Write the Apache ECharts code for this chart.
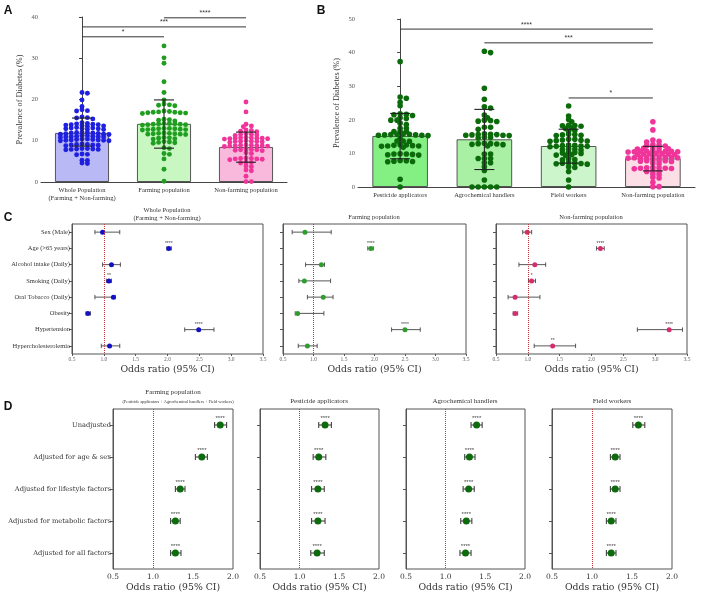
<!DOCTYPE html>
<html><head><meta charset="utf-8">
<script src="https://cdn.jsdelivr.net/npm/echarts@6/dist/echarts.min.js"></script>
<style>html,body{margin:0;padding:0;background:#fff}#c{width:708px;height:597px}</style>
</head><body><div id="c"></div><script>
// ---------------- DATA ----------------
const aCategories = ['Whole Population\n(Farming + Non-farming)', 'Farming population', 'Non-farming population'];
const wholePop = [21.7,21.5,19.9,18.3,17.5,17.3,17.2,15.8,15.6,15.5,15.3,14.4,14.2,14.1,
  13.9,13.8,14.0,13.6,13.7,13.9,13.5, 13.1,12.9,13.2,12.8,13.0,12.7,13.1,12.9,
  12.1,11.9,11.7,11.6,11.9,12.0,11.5,11.8,11.6,12.0, 11.2,11.0,10.9,11.1,10.8,11.0,11.3,10.9,11.1,
  10.4,10.2,10.0,10.3,10.1,10.2,10.4,10.0,10.3,10.1, 9.2,9.0,8.9,9.1,8.8,9.0,9.1,
  8.1,7.9,8.0,7.8,8.1,7.9,8.0, 6.8,6.6,6.7, 5.3,5.2, 4.6,4.5];
const farmingPop = [33.0,30.1,28.8,24.3,21.7,19.9, 18.9,18.6,18.7,18.5,
  17.1,16.9,16.8,17.0,16.7,16.9,17.2,16.8,16.6, 15.1,15.0,14.8,15.2,
  14.2,14.0,13.9,14.1,13.8,14.0,14.2,13.9,14.1, 12.9,12.7,12.8,13.0,12.6,12.9,12.7,12.8,13.0,
  11.8,11.6,11.7,11.9,11.5,11.8,11.6,11.7, 10.7,10.5,10.6,10.8,10.4, 9.7,9.5,9.6,9.8,9.4,
  8.3,8.1, 6.9,6.7, 5.6, 3.1, 0.2];
const nonFarmingPop = [19.4,17.0,14.0,13.6,13.4, 12.5,12.3,12.6,12.2, 11.6,11.4,11.5,11.7,11.3,
  10.7,10.5,10.6,10.8,10.4,10.6,10.7,10.5,10.6, 9.9,9.7,9.8,10.0,9.6,9.8,9.9,
  8.9,8.7,8.8,9.0,8.6,8.8,8.9,8.7,8.8, 7.9,7.7,7.8,8.0,7.6,7.8, 7.1,6.9,
  5.7,5.5,5.6,5.8,5.4,5.6,5.7, 4.8,4.6,4.7, 3.9,3.7, 2.9,2.7, 1.4, 0.1,0.1];
const aMeans = [11.9, 14.1, 8.5];
const aSdLow = [8.7, 8.2, 4.8];
const aSdHigh = [15.5, 19.9, 12.1];
const aBrackets = [[0,1,'*'],[0,2,'***'],[1,2,'****']];

const bCategories = ['Pesticide applicators','Agrochemical handlers','Field workers','Non-farming population'];
const pesticideApp = [37.3,26.8,26.4,25.2,24.2,21.8,21.6,21.5,21.3,20.6,20.4,19.9,19.9,19.0,18.6,17.5,17.5,16.5,16.5,16.5,
  15.7,15.4,15.5,15.8,15.3,15.6,15.4,15.7,15.5, 14.5,13.7,13.7,13.6, 12.5,12.2,12.4,12.1,12.3,12.6,12.2, 11.8,
  9.8,9.6,9.9,9.5,9.7,9.8, 7.8,7.6,7.9,7.5,7.7, 2.3, 0];
const agroHandlers = [40.4,40.0,29.4,26.1,23.9,23.5,21.4,20.6,19.8,19.6,19.9,19.5,17.8,17.8,17.2,
  15.6,15.4,15.7,15.3,15.5,15.8,15.4,15.6, 14.8,14.7,14.6, 12.9,12.7,13.0,12.6,12.8,12.9, 12.2,
  9.8,9.8, 8.5,8.5,8.5, 7.2,7.2, 6.0, 4.9, 2.1, 0,0,0,0,0];
const fieldWorkers = [24.1,21.1,20.1,19.4,18.3,18.1,18.2,18.4,17.6,17.4,16.8,16.6,15.6,15.4,15.7,15.3,15.5,14.2,14.2,
  13.9,13.7,14.0,13.6,13.8, 12.3,12.1,12.4,12.0,12.2,12.5,12.1, 11.3,11.1,11.4,11.0, 10.3,10.1,10.4,10.0,
  9.6,9.4,9.5, 8.3,8.1,8.2, 7.1,6.9,7.2,6.8,7.0,7.1, 6.0,5.8, 4.6, 2.1, 0];
const bMeans = [15.2, 14.2, 12.2, 8.5];
const bSdLow = [8.4, 5.2, 7.1, 4.8];
const bSdHigh = [21.9, 23.1, 17.2, 12.1];
const bBrackets = [[0,3,'****'],[1,3,'***'],[2,3,'*']];

const cFactors = ['Sex (Male)','Age (>65 years)','Alcohol intake (Daily)','Smoking (Daily)','Oral Tobacco (Daily)','Obesity','Hypertension','Hypercholesterolemia'];
const cWholeOR = [0.98,2.02,1.12,1.08,1.15,0.75,2.49,1.09];
const cWholeLo = [0.86,1.99,0.98,1.04,0.86,0.72,2.27,0.96];
const cWholeHi = [1.25,2.06,1.26,1.12,1.18,0.79,2.73,1.25];
const cWholeSig = ['','****','','**','','','****',''];
const cFarmOR = [0.86,1.94,1.13,0.85,1.16,0.74,2.50,0.90];
const cFarmLo = [0.65,1.89,0.87,0.76,0.90,0.70,2.28,0.75];
const cFarmHi = [1.29,1.98,1.18,1.28,1.32,1.17,2.75,1.06];
const cFarmSig = ['','****','','','','','****',''];
const cNonOR = [0.99,2.14,1.11,1.06,0.80,0.80,3.22,1.39];
const cNonLo = [0.92,2.08,0.86,1.01,0.69,0.77,2.72,1.10];
const cNonHi = [1.06,2.20,1.28,1.12,1.19,0.84,3.43,1.75];
const cNonSig = ['','****','','*','','','****','**'];
const cTicks = [0.5,1.0,1.5,2.0,2.5,3.0,3.5];

const dFactors = ['Unadjusted','Adjusted for age & sex','Adjusted for lifestyle factors','Adjusted for metabolic factors','Adjusted for all factors'];
const dFarmOR = [1.84,1.61,1.34,1.28,1.28];
const dFarmLo = [1.77,1.53,1.28,1.22,1.22];
const dFarmHi = [1.92,1.68,1.40,1.34,1.35];
const dPestOR = [1.32,1.24,1.23,1.23,1.22];
const dPestLo = [1.24,1.17,1.15,1.15,1.14];
const dPestHi = [1.40,1.33,1.31,1.32,1.31];
const dAgroOR = [1.39,1.30,1.29,1.26,1.25];
const dAgroLo = [1.32,1.24,1.22,1.19,1.18];
const dAgroHi = [1.46,1.37,1.36,1.33,1.32];
const dFieldOR = [1.58,1.29,1.29,1.24,1.24];
const dFieldLo = [1.51,1.23,1.23,1.18,1.18];
const dFieldHi = [1.66,1.35,1.35,1.30,1.30];
const dSig = ['****','****','****','****','****'];
const dTicks = [0.5,1.0,1.5,2.0];

// ---------------- LAYOUT / STYLE ----------------
const SERIF = '"Liberation Serif","Times New Roman",serif';
const SANS = '"Liberation Sans",Arial,sans-serif';
const DSERIF = '"DejaVu Serif",serif';
const grids = [
  {left:41, top:17, width:246, height:165},   // A
  {left:358, top:19, width:337, height:168},  // B
  {left:72, top:224, width:191, height:130},  // C1
  {left:283, top:224, width:183, height:130}, // C2
  {left:496, top:224, width:191, height:130}, // C3
  {left:113, top:409, width:120, height:160}, // D1
  {left:260, top:409, width:119, height:160}, // D2
  {left:406, top:409, width:119, height:160}, // D3
  {left:552, top:409, width:120, height:160}  // D4
];
const bracketYA = [35.2, 37.6, 39.8];
const bracketYB = [47.0, 42.9, 26.5];

// beeswarm with elliptical collision (points may overlap a little vertically, like Prism dot plots)
function swarm(values, grid, yMax, nCat, sp, vy) {
  const pyU = grid.height / yMax, pxU = grid.width / nCat;
  const order = values.map((v,i)=>i).sort((a,b)=>values[b]-values[a]);
  const placed = [], out = [];
  const step = sp/2;
  for (const i of order) {
    const y = values[i]*pyU;
    let best = 0;
    for (let n=0;n<400;n++){
      const c = n===0?0:(n%2?1:-1)*Math.ceil(n/2)*step;
      let ok = true;
      for (const p of placed){
        const dx=(p[0]-c)/sp, dy=(p[1]-y)/vy;
        if (dx*dx+dy*dy < 0.999){ok=false;break;}
      }
      if (ok){best=c;break;}
    }
    placed.push([best,y]);
    out[i] = best/pxU;
  }
  return out;
}
function dotData(values, cat, grid, yMax, nCat, sp, vy){
  const off = swarm(values, grid, yMax, nCat, sp, vy);
  return values.map((v,i)=>[cat+off[i], v]);
}

const series = [];
const xAxes = [], yAxes = [];

function barPanel(gi, cats, groups, means, lo, hi, barColors, dotColors, yMax, brackets, bracketY, sp, vy, dotSize, yName){
  const xc = xAxes.length, xv = xc+1, yi = yAxes.length;
  xAxes.push({type:'category', gridIndex:gi, data:cats,
    axisLine:{lineStyle:{color:'#444', width:1}}, axisTick:{show:false},
    axisLabel:{interval:0, fontFamily:SERIF, fontSize:6.5, lineHeight:8.5, color:'#333', margin:4}});
  xAxes.push({type:'value', gridIndex:gi, min:-0.5, max:cats.length-0.5, show:false});
  yAxes.push({type:'value', gridIndex:gi, min:0, max:yMax, interval:10,
    axisLine:{show:true, lineStyle:{color:'#444'}}, axisTick:{show:true, length:3, lineStyle:{color:'#444'}},
    splitLine:{show:false}, axisLabel:{fontFamily:SERIF, fontSize:6.5, color:'#555', margin:3},
    name:yName, nameLocation:'middle', nameGap:17, nameTextStyle:{fontFamily:SERIF, fontSize:8.2, color:'#333'}});
  series.push({type:'bar', xAxisIndex:xc, yAxisIndex:yi, barWidth:'66%', z:2,
    data: means.map((m,i)=>({value:m, itemStyle:{color:barColors[i], borderColor:'#555', borderWidth:1}}))});
  groups.forEach((g,k)=>{
    series.push({type:'scatter', xAxisIndex:xv, yAxisIndex:yi, z:3, symbolSize:dotSize,
      itemStyle:{color:dotColors[k], opacity:1}, data: dotData(g, k, grids[gi], yMax, cats.length, sp, vy)});
  });
  series.push({type:'custom', xAxisIndex:xc, yAxisIndex:yi, z:5,
    data: means.map((m,i)=>[i, m, lo[i], hi[i]]), encode:{x:0, y:[1,2,3]},
    renderItem:(p, api)=>{
      const i = api.value(0);
      const pm = api.coord([i, api.value(1)]), pl = api.coord([i, api.value(2)]), ph = api.coord([i, api.value(3)]);
      const w = 10, st = {stroke:'#222', lineWidth:1.1};
      return {type:'group', children:[
        {type:'line', shape:{x1:pm[0], y1:pl[1], x2:pm[0], y2:ph[1]}, style:st},
        {type:'line', shape:{x1:pm[0]-w, y1:pl[1], x2:pm[0]+w, y2:pl[1]}, style:st},
        {type:'line', shape:{x1:pm[0]-w, y1:ph[1], x2:pm[0]+w, y2:ph[1]}, style:st}
      ]};
    }});
  series.push({type:'custom', xAxisIndex:xv, yAxisIndex:yi, z:5,
    data: brackets.map((b,k)=>[b[0], b[1], bracketY[k], k]), encode:{x:[0,1], y:2},
    renderItem:(p, api)=>{
      const a = api.coord([api.value(0), api.value(2)]), b = api.coord([api.value(1), api.value(2)]);
      return {type:'group', children:[
        {type:'line', shape:{x1:a[0], y1:a[1], x2:b[0], y2:b[1]}, style:{stroke:'#333', lineWidth:1}},
        {type:'text', x:(a[0]+b[0])/2, y:a[1]-1, style:{text:brackets[api.value(3)][2], fill:'#333', font:'7px '+SANS, align:'center', verticalAlign:'bottom'}}
      ]};
    }});
}

barPanel(0, aCategories, [wholePop, farmingPop, nonFarmingPop], aMeans, aSdLow, aSdHigh,
  ['#b9b9f6','#c8f7c2','#f9b9dc'], ['#1f1fe0','#1f9e1f','#f0359a'], 40, aBrackets, bracketYA, 5.4, 2.8, 4.9, 'Prevalence of Diabetes (%)');
barPanel(1, bCategories, [pesticideApp, agroHandlers, fieldWorkers, nonFarmingPop], bMeans, bSdLow, bSdHigh,
  ['#84f084','#a9f0a5','#cdf5cb','#fcdee6'], ['#0b6b0b','#0b6b0b','#0b6b0b','#f0359a'], 50, bBrackets, bracketYB, 6.2, 2.7, 5.6, 'Prevalence of Diabetes (%)');

function forest(gi, factors, or, lo, hi, sig, ticks, showLabels, color, cfg){
  const xi = xAxes.length, yi = yAxes.length;
  xAxes.push({type:'value', gridIndex:gi, min:ticks[0], max:ticks[ticks.length-1], interval:0.5,
    axisLine:{lineStyle:{color:'#555'}}, axisTick:{show:cfg.xTick, length:2, lineStyle:{color:'#555'}}, splitLine:{show:false},
    axisLabel:{formatter:v=>v.toFixed(1), fontFamily:cfg.tickFont, fontSize:cfg.tickSize, color:cfg.tickColor, margin:cfg.tickMargin},
    name:'Odds ratio (95% CI)', nameLocation:'middle', nameGap:cfg.nameGap,
    nameTextStyle:{fontFamily:DSERIF, fontSize:cfg.nameSize, color:'#333'}});
  yAxes.push({type:'category', gridIndex:gi, data:factors, inverse:true,
    axisLine:{lineStyle:{color:'#555'}}, axisTick:{show:true, alignWithLabel:true, length:3, lineStyle:{color:'#555'}},
    axisLabel:{show:showLabels, fontFamily:cfg.labFont, fontSize:cfg.labSize, color:'#333', margin:2}});
  series.push({type:'custom', xAxisIndex:xi, yAxisIndex:yi, z:3,
    data: or.map((v,i)=>[lo[i], hi[i], i]), encode:{x:[0,1], y:2},
    renderItem:(p, api)=>{
      const a = api.coord([api.value(0), api.value(2)]), b = api.coord([api.value(1), api.value(2)]);
      const h = cfg.cap, st = {stroke:'#444', lineWidth:cfg.lw};
      return {type:'group', children:[
        {type:'line', shape:{x1:a[0], y1:a[1], x2:b[0], y2:b[1]}, style:st},
        {type:'line', shape:{x1:a[0], y1:a[1]-h, x2:a[0], y2:a[1]+h}, style:st},
        {type:'line', shape:{x1:b[0], y1:b[1]-h, x2:b[0], y2:b[1]+h}, style:st}
      ]};
    }});
  series.push({type:'scatter', xAxisIndex:xi, yAxisIndex:yi, z:4, symbolSize:cfg.dot,
    itemStyle:{color:color, opacity:1},
    label:{show:true, position:'top', distance:0, formatter:q=>sig[q.dataIndex], fontFamily:SANS, fontSize:cfg.starSize, color:'#444'},
    data: or.map((v,i)=>[v, i]),
    markLine:{silent:true, symbol:'none', label:{show:false}, animation:false,
      lineStyle:{color:'#c8323c', type:'dotted', width:1}, data:[{xAxis:1}]}});
}
const cCfg = {xTick:true, tickFont:SERIF, tickSize:5.5, tickColor:'#666', tickMargin:3, nameGap:11, nameSize:9.3,
  labFont:SERIF, labSize:6.5, cap:2.2, lw:0.9, dot:5, starSize:5};
const dCfg = {xTick:false, tickFont:DSERIF, tickSize:7.5, tickColor:'#333', tickMargin:4, nameGap:14, nameSize:9.3,
  labFont:DSERIF, labSize:6.7, cap:3, lw:1.1, dot:7, starSize:6};
forest(2, cFactors, cWholeOR, cWholeLo, cWholeHi, cWholeSig, cTicks, true, '#1212c4', cCfg);
forest(3, cFactors, cFarmOR, cFarmLo, cFarmHi, cFarmSig, cTicks, false, '#2e9c2e', cCfg);
forest(4, cFactors, cNonOR, cNonLo, cNonHi, cNonSig, cTicks, false, '#d42d6e', cCfg);
forest(5, dFactors, dFarmOR, dFarmLo, dFarmHi, dSig, dTicks, true, '#0d6b0d', dCfg);
forest(6, dFactors, dPestOR, dPestLo, dPestHi, dSig, dTicks, false, '#0d6b0d', dCfg);
forest(7, dFactors, dAgroOR, dAgroLo, dAgroHi, dSig, dTicks, false, '#0d6b0d', dCfg);
forest(8, dFactors, dFieldOR, dFieldLo, dFieldHi, dSig, dTicks, false, '#0d6b0d', dCfg);

function txt(x, y, s, font, color, align){
  return {type:'text', x:x, y:y, silent:true, style:{text:s, font:font, fill:color||'#333', align:align||'center', verticalAlign:'middle'}};
}
const graphics = [
  txt(8,11,'A','bold 12px '+SANS,'#111'),
  txt(321,11,'B','bold 12px '+SANS,'#111'),
  txt(8,218,'C','bold 12px '+SANS,'#111'),
  txt(8,407,'D','bold 12px '+SANS,'#111'),
  txt(167,210,'Whole Population','6.5px '+SERIF),
  txt(167,218,'(Farming + Non-farming)','6.5px '+SERIF),
  txt(374,217,'Farming population','6.5px '+SERIF),
  txt(591,217,'Non-farming population','6.5px '+SERIF),
  txt(173,392,'Farming population','7px '+SERIF),
  txt(178,402,'(Pesticide applicators + Agrochemical handlers + Field workers)','4.3px '+SERIF),
  txt(319,401,'Pesticide applicators','7px '+SERIF),
  txt(465,401,'Agrochemical handlers','7px '+SERIF),
  txt(612,401,'Field workers','7px '+SERIF)
];

const option = {
  animation:false,
  backgroundColor:'#fff',
  grid: grids.map((g,i)=>Object.assign({show:i>=2, borderColor:'#555', borderWidth:1, containLabel:false}, g)),
  xAxis: xAxes, yAxis: yAxes, series: series, graphic: graphics
};
const chart = echarts.init(document.getElementById('c'));
chart.setOption(option);
</script></body></html>
